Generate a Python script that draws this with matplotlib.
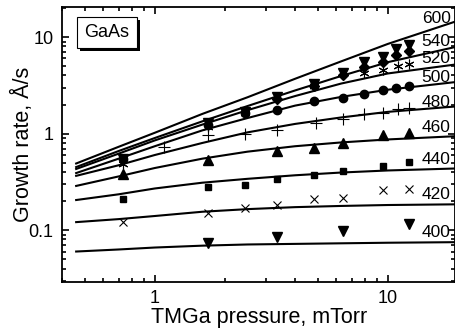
import matplotlib
matplotlib.use("Agg")
import matplotlib.pyplot as plt
from matplotlib.patches import Rectangle

plt.rcParams['font.family'] = ['Liberation Sans', 'DejaVu Sans']

# model curves: growth rate (A/s) read at these TMGa pressures (mTorr)
curve_p = [0.46, 0.7, 1.0, 1.6, 2.5, 4.0, 6.3, 10.0, 19.5]
line_600 = [0.49, 0.73, 1.02, 1.6, 2.38, 3.7, 5.6, 8.5, 14.5]
line_540 = [0.45, 0.66, 0.90, 1.34, 1.93, 2.8, 3.95, 5.5, 7.9]
line_520 = [0.43, 0.62, 0.85, 1.24, 1.75, 2.45, 3.3, 4.2, 5.2]
line_500 = [0.39, 0.55, 0.74, 1.08, 1.45, 1.95, 2.4, 2.85, 3.42]
line_480 = [0.365, 0.47, 0.60, 0.80, 1.03, 1.26, 1.47, 1.68, 1.91]
line_460 = [0.287, 0.36, 0.44, 0.55, 0.65, 0.74, 0.81, 0.87, 0.94]
line_440 = [0.205, 0.235, 0.27, 0.31, 0.34, 0.37, 0.395, 0.415, 0.435]
line_420 = [0.121, 0.13, 0.14, 0.155, 0.165, 0.173, 0.178, 0.182, 0.185]
line_400 = [0.060, 0.063, 0.066, 0.069, 0.071, 0.072, 0.073, 0.074, 0.075]

temps = ["600", "540", "520", "500", "480", "460", "440", "420", "400"]
label_y = [15.4, 8.9, 6.0, 3.85, 2.1, 1.15, 0.54, 0.235, 0.094]

# measured points
p_400 = [1.69, 3.33, 6.4, 12.3]
g_400 = [0.074, 0.085, 0.097, 0.116]
p_420 = [0.73, 1.69, 2.43, 3.33, 4.8, 6.4, 9.5, 12.3]
g_420 = [0.12, 0.15, 0.17, 0.184, 0.21, 0.216, 0.26, 0.265]
p_440 = [0.73, 1.69, 2.43, 3.33, 4.8, 6.4, 9.5, 12.3]
g_440 = [0.21, 0.283, 0.29, 0.335, 0.374, 0.41, 0.457, 0.503]
p_460 = [0.73, 1.69, 3.33, 4.8, 6.4, 9.5, 12.3]
g_460 = [0.385, 0.527, 0.66, 0.71, 0.8, 0.96, 1.02]
p_480 = [1.1, 1.69, 2.43, 3.33, 4.9, 6.4, 7.9, 9.5, 11.1, 12.3]
g_480 = [0.73, 0.97, 1.0, 1.1, 1.3, 1.43, 1.6, 1.64, 1.82, 1.86]
p_500 = [0.73, 1.69, 2.43, 3.33, 4.8, 6.4, 7.9, 9.5, 10.8, 12.3]
g_500 = [0.54, 1.23, 1.62, 1.75, 2.17, 2.35, 2.55, 2.82, 3.0, 3.11]
p_520 = [0.73, 1.69, 2.43, 4.8, 7.9, 9.5, 11.1, 12.3]
g_520 = [0.485, 1.16, 1.63, 3.1, 4.2, 4.55, 5.0, 5.25]
p_540 = [0.73, 1.69, 2.43, 3.33, 4.8, 6.4, 7.9, 9.5, 10.8, 12.3]
g_540 = [0.55, 1.28, 1.67, 2.4, 3.3, 4.22, 5.5, 6.25, 7.45, 8.2]
p_dia = [3.33, 4.8, 6.4, 7.9, 9.5, 10.8, 12.3]
g_dia = [2.3, 3.15, 4.05, 4.92, 5.5, 6.6, 7.15]

fig = plt.figure(figsize=(4.56, 3.28), dpi=100)
ax = fig.add_axes([62 / 456, 46 / 328, 393.5 / 456, 275 / 328])

lines = [line_600, line_540, line_520, line_500, line_480,
         line_460, line_440, line_420, line_400]
for vals, t, ly in zip(lines, temps, label_y):
    ax.plot(curve_p, vals, color="black", lw=1.5, zorder=2)
    ax.text(18.6, ly, t, ha="right", va="center", fontsize=12.5)

mk = dict(color="black", linestyle="none", zorder=3)
ax.plot(p_400, g_400, marker="v", ms=6.5, **mk)
ax.plot(p_420, g_420, marker="x", ms=6, mew=0.8, **mk)
ax.plot(p_440, g_440, marker="s", ms=4.8, **mk)
ax.plot(p_460, g_460, marker="^", ms=6.5, **mk)
ax.plot(p_480, g_480, marker="+", ms=8, mew=0.8, **mk)
ax.plot(p_500, g_500, marker="o", ms=6, **mk)
ax.plot(p_520, g_520, marker=(6, 2, 0), ms=7, mew=0.8, **mk)
ax.plot(p_dia, g_dia, marker="D", ms=5, **mk)
ax.plot(p_540, g_540, marker="v", ms=6.5, **mk)

ax.set_xscale("log")
ax.set_yscale("log")
ax.set_xlim(0.4, 19.5)
ax.set_ylim(0.029, 20.5)

ax.set_xticks([1, 10])
ax.set_xticklabels(["1", "10"])
ax.set_yticks([0.1, 1, 10])
ax.set_yticklabels(["0.1", "1", "10"])
ax.tick_params(which="both", direction="in", top=True, right=True,
               labelsize=13, width=1.2)
ax.tick_params(which="major", length=5, pad=6)
ax.tick_params(which="minor", length=3)
for s in ax.spines.values():
    s.set_linewidth(1.3)

ax.set_xlabel("TMGa pressure, mTorr", fontsize=15.5, labelpad=0)
ax.set_ylabel("Growth rate, Å/s", fontsize=15.5, labelpad=-4)

# sample label with drop shadow
ax.add_patch(Rectangle((0.046, 0.840), 0.153, 0.113, transform=ax.transAxes,
                       facecolor="black", edgecolor="none", zorder=4))
ax.add_patch(Rectangle((0.038, 0.851), 0.153, 0.113, transform=ax.transAxes,
                       facecolor="white", edgecolor="black", lw=0.8, zorder=5))
ax.text(0.1145, 0.907, "GaAs", transform=ax.transAxes, ha="center",
        va="center", fontsize=13, zorder=6)

fig.savefig("out.png", dpi=100)
